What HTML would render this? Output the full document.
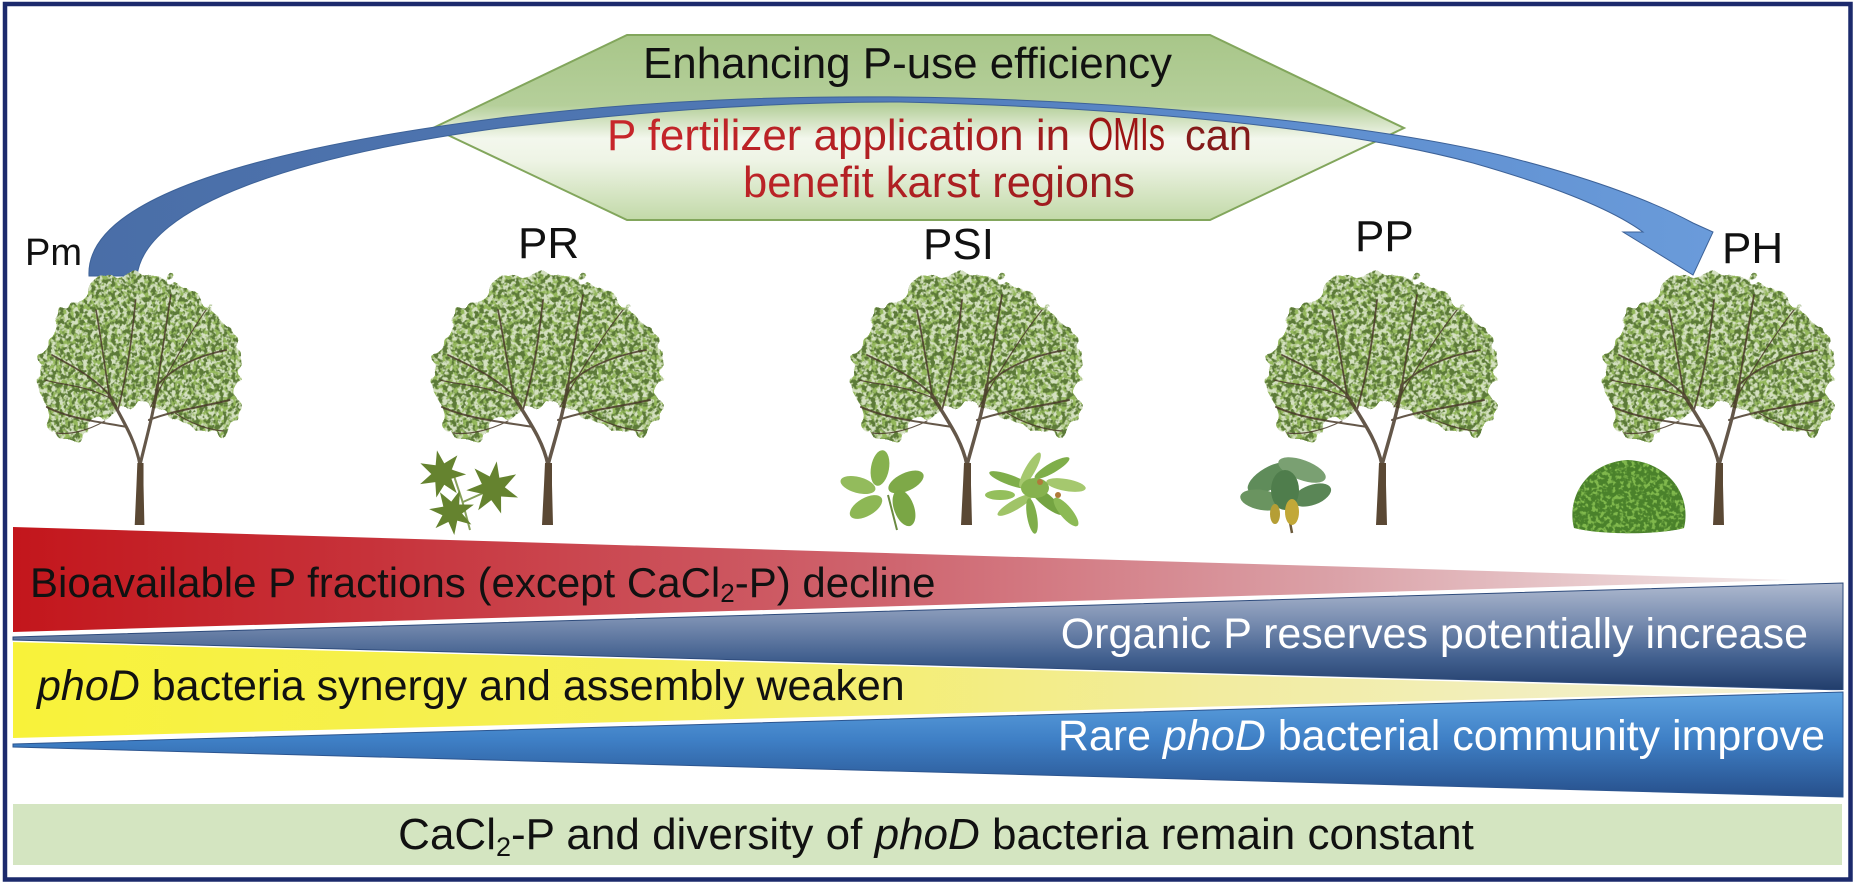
<!DOCTYPE html>
<html><head><meta charset="utf-8"><style>
html,body{margin:0;padding:0;background:#fff;overflow:hidden}
svg{display:block}
text{font-family:"Liberation Sans",Arial,sans-serif}
</style></head><body>
<svg width="1857" height="886" viewBox="0 0 1857 886" xmlns="http://www.w3.org/2000/svg">
<defs>
  <linearGradient id="hexG" x1="0" y1="35" x2="0" y2="220" gradientUnits="userSpaceOnUse">
    <stop offset="0" stop-color="#a8c689"/>
    <stop offset="0.38" stop-color="#b5cf9a"/>
    <stop offset="0.56" stop-color="#f3f7ed"/>
    <stop offset="0.68" stop-color="#eef4e5"/>
    <stop offset="1" stop-color="#c2d9a8"/>
  </linearGradient>
  <linearGradient id="arrG" x1="89" y1="0" x2="1713" y2="0" gradientUnits="userSpaceOnUse">
    <stop offset="0" stop-color="#4a6ea7"/>
    <stop offset="0.45" stop-color="#5079b6"/>
    <stop offset="0.75" stop-color="#5e8ecf"/>
    <stop offset="1" stop-color="#6a9bda"/>
  </linearGradient>
  <linearGradient id="redTxt" x1="600" y1="0" x2="1260" y2="0" gradientUnits="userSpaceOnUse">
    <stop offset="0" stop-color="#c8262b"/>
    <stop offset="0.6" stop-color="#a81d20"/>
    <stop offset="1" stop-color="#7e1a1a"/>
  </linearGradient>
  <linearGradient id="redG" x1="13" y1="0" x2="1790" y2="0" gradientUnits="userSpaceOnUse">
    <stop offset="0" stop-color="#c3161c"/>
    <stop offset="0.2" stop-color="#c7323a"/>
    <stop offset="0.5" stop-color="#cf6670"/>
    <stop offset="0.75" stop-color="#dba3a9"/>
    <stop offset="1" stop-color="#f3eaea"/>
  </linearGradient>
  <linearGradient id="yelG" x1="13" y1="0" x2="1843" y2="0" gradientUnits="userSpaceOnUse">
    <stop offset="0" stop-color="#f8f23a"/>
    <stop offset="0.35" stop-color="#f5ef58"/>
    <stop offset="0.65" stop-color="#f2ec9e"/>
    <stop offset="1" stop-color="#f3f1dc"/>
  </linearGradient>
  <linearGradient id="dbG" x1="0" y1="583" x2="0" y2="690" gradientUnits="userSpaceOnUse">
    <stop offset="0" stop-color="#aeb9cf"/>
    <stop offset="0.35" stop-color="#7a8eb1"/>
    <stop offset="0.7" stop-color="#42608f"/>
    <stop offset="1" stop-color="#213d6b"/>
  </linearGradient>
  <linearGradient id="blG" x1="0" y1="692" x2="0" y2="797" gradientUnits="userSpaceOnUse">
    <stop offset="0" stop-color="#5fa3e0"/>
    <stop offset="0.45" stop-color="#3f80c6"/>
    <stop offset="1" stop-color="#27508c"/>
  </linearGradient>

  <filter id="cBase" x="-20%" y="-20%" width="140%" height="140%" color-interpolation-filters="sRGB">
    <feTurbulence type="fractalNoise" baseFrequency="0.05" numOctaves="2" seed="4" result="t"/>
    <feDisplacementMap in="SourceGraphic" in2="t" scale="26" xChannelSelector="R" yChannelSelector="G"/>
  </filter>
  <filter id="cDark" x="-20%" y="-20%" width="140%" height="140%" color-interpolation-filters="sRGB">
    <feTurbulence type="fractalNoise" baseFrequency="0.05" numOctaves="2" seed="4" result="t"/>
    <feDisplacementMap in="SourceGraphic" in2="t" scale="26" xChannelSelector="R" yChannelSelector="G" result="shape"/>
    <feTurbulence type="fractalNoise" baseFrequency="0.22" numOctaves="2" seed="9" result="n"/>
    <feColorMatrix in="n" type="matrix" values="0 0 0 0 0.36  0 0 0 0 0.48  0 0 0 0 0.22  6.5 0 0 0 -3.0" result="sp"/>
    <feComposite in="sp" in2="shape" operator="in"/>
  </filter>
  <filter id="cLight" x="-20%" y="-20%" width="140%" height="140%" color-interpolation-filters="sRGB">
    <feTurbulence type="fractalNoise" baseFrequency="0.05" numOctaves="2" seed="4" result="t"/>
    <feDisplacementMap in="SourceGraphic" in2="t" scale="26" xChannelSelector="R" yChannelSelector="G" result="shape"/>
    <feTurbulence type="fractalNoise" baseFrequency="0.2" numOctaves="2" seed="21" result="n"/>
    <feColorMatrix in="n" type="matrix" values="0 0 0 0 0.58  0 0 0 0 0.72  0 0 0 0 0.36  0 6 0 0 -2.6" result="sp"/>
    <feComposite in="sp" in2="shape" operator="in"/>
  </filter>
  <filter id="bush" x="-10%" y="-10%" width="120%" height="120%" color-interpolation-filters="sRGB">
    <feTurbulence type="fractalNoise" baseFrequency="0.25" numOctaves="2" seed="3" result="n"/>
    <feColorMatrix in="n" type="matrix" values="0 0 0 0 0.5  0 0 0 0 0.72  0 0 0 0 0.3  6 0 0 0 -2.9" result="sp"/>
    <feComposite in="sp" in2="SourceAlpha" operator="in" result="s2"/>
    <feMerge><feMergeNode in="SourceGraphic"/><feMergeNode in="s2"/></feMerge>
  </filter>

  <path id="canopyShape" d="M -112,-118 C -122,-168 -100,-212 -58,-236 C -28,-252 28,-252 58,-236 C 100,-212 122,-168 112,-118 C 106,-94 92,-86 76,-90 C 50,-102 25,-122 0,-124 C -25,-122 -50,-102 -76,-90 C -92,-86 -106,-94 -112,-118 Z"/>

  <g id="tree">
    <use href="#canopyShape" fill="#d2dfbd" opacity="0.95" filter="url(#cBase)"/>
    <use href="#canopyShape" fill="#000" filter="url(#cLight)"/>
    <use href="#canopyShape" fill="#000" filter="url(#cDark)"/>
    <g fill="none" stroke="#4a3a2a" stroke-linecap="round" opacity="0.85">
      <path d="M 0,-60 C -5,-85 -20,-105 -35,-130" stroke-width="3.5"/>
      <path d="M 0,-60 C 8,-90 15,-110 20,-140" stroke-width="3.5"/>
      <path d="M -35,-130 C -55,-150 -80,-160 -100,-170" stroke-width="1.8"/>
      <path d="M -35,-130 C -40,-160 -45,-190 -50,-215" stroke-width="1.8"/>
      <path d="M -25,-115 C -15,-150 -10,-180 -5,-225" stroke-width="1.8"/>
      <path d="M 20,-140 C 40,-160 70,-170 98,-175" stroke-width="1.8"/>
      <path d="M 20,-140 C 25,-175 30,-200 35,-230" stroke-width="1.8"/>
      <path d="M 10,-105 C 40,-115 70,-118 102,-125" stroke-width="2"/>
      <path d="M -15,-98 C -45,-103 -80,-106 -106,-118" stroke-width="2"/>
      <path d="M 12,-118 C 30,-150 55,-190 75,-215" stroke-width="1.2"/>
      <path d="M -30,-125 C -60,-140 -90,-140 -108,-145" stroke-width="1.2"/>
      <path d="M 40,-112 C 60,-100 80,-95 95,-94" stroke-width="1.2"/>
      <path d="M -40,-104 C -60,-94 -80,-90 -95,-92" stroke-width="1.2"/>
    </g>
    <path d="M -6,0 L -4,-40 L -3,-62 L 4,-62 L 4,-40 L 5,0 Z" fill="#5a4834"/>
  </g>

  <path id="palm" d="M0,-22 L4,-9 L17.2,-13.7 L9.5,-2 L21.4,4.9 L7.5,6 L9.5,19.8 L0,10 L-9.5,19.8 L-7.5,6 L-21.4,4.9 L-9.5,-2 L-17.2,-13.7 L-4,-9 Z"/>
</defs>

<rect width="1857" height="886" fill="#fff"/>

<!-- hexagon -->
<polygon points="433,128 627,35 1210,35 1404,128 1210,220 627,220" fill="url(#hexG)" stroke="#82a65c" stroke-width="2"/>
<text x="643" y="78" font-size="44" fill="#111" textLength="529" lengthAdjust="spacingAndGlyphs">Enhancing P-use efficiency</text>

<!-- arrow -->
<path d="M 89,276 C 85,200 250,150 500,118 C 650,100 780,96 900,97 C 1100,99 1350,120 1500,155 C 1600,180 1660,205 1693,223 L 1713,232 L 1693,275 L 1623,232 L 1643,232 C 1610,208 1550,185 1473,163 C 1350,130 1150,108 900,102 C 750,102 620,114 500,128 C 300,155 145,205 137,276 Z" fill="url(#arrG)" stroke="#3d6298" stroke-width="1"/>

<text x="607" y="150" font-size="44" fill="url(#redTxt)" textLength="463" lengthAdjust="spacingAndGlyphs">P fertilizer application in</text>
<text x="1088" y="150" font-size="46" fill="#9c1414" textLength="77" lengthAdjust="spacingAndGlyphs">OMIs</text>
<text x="1185" y="150" font-size="44" fill="#841a1a" textLength="67" lengthAdjust="spacingAndGlyphs">can</text>
<text x="743" y="197" font-size="44" fill="url(#redTxt)" textLength="392" lengthAdjust="spacingAndGlyphs">benefit karst regions</text>

<!-- labels -->
<g fill="#111">
  <text x="25" y="265" font-size="38">Pm</text>
  <text x="518" y="258" font-size="44">PR</text>
  <text x="923" y="259" font-size="44">PSI</text>
  <text x="1355" y="251" font-size="44">PP</text>
  <text x="1722" y="263" font-size="44">PH</text>
</g>

<!-- trees -->
<use href="#tree" transform="translate(140,525) scale(0.88,1)"/>
<use href="#tree" x="548" y="525"/>
<use href="#tree" x="967" y="525"/>
<use href="#tree" x="1382" y="525"/>
<use href="#tree" x="1719" y="525"/>

<!-- PR plant -->
<g fill="#65832f">
  <path d="M470,530 L462,500 L452,470 M463,502 L490,490" stroke="#86a05a" stroke-width="2" fill="none"/>
  <use href="#palm" transform="translate(442,474) scale(1.1) rotate(-12)"/>
  <use href="#palm" transform="translate(493,488) scale(1.22) rotate(8)"/>
  <use href="#palm" transform="translate(452,512) scale(1.05) rotate(20)"/>
</g>

<!-- PSI left plant -->
<g>
  <path d="M897,530 L888,495" stroke="#6a8a40" stroke-width="2"/>
  <ellipse cx="880" cy="468" rx="9" ry="18" transform="rotate(10 880 468)" fill="#86b14e"/>
  <ellipse cx="858" cy="485" rx="18" ry="8" transform="rotate(15 858 485)" fill="#93bb5c"/>
  <ellipse cx="906" cy="482" rx="19" ry="9" transform="rotate(-25 906 482)" fill="#7ea948"/>
  <ellipse cx="866" cy="507" rx="18" ry="9" transform="rotate(-30 866 507)" fill="#8db755"/>
  <ellipse cx="904" cy="508" rx="10" ry="19" transform="rotate(-20 904 508)" fill="#7aa645"/>
</g>

<!-- PSI right plant -->
<g>
  <ellipse cx="1010" cy="480" rx="22" ry="5" transform="rotate(20 1010 480)" fill="#7fae4a"/>
  <ellipse cx="1030" cy="470" rx="20" ry="5" transform="rotate(-60 1030 470)" fill="#a5c86e"/>
  <ellipse cx="1052" cy="468" rx="20" ry="5" transform="rotate(-30 1052 468)" fill="#7fae4a"/>
  <ellipse cx="1066" cy="485" rx="20" ry="6" transform="rotate(10 1066 485)" fill="#a5c86e"/>
  <ellipse cx="1046" cy="500" rx="22" ry="6" transform="rotate(40 1046 500)" fill="#74a442"/>
  <ellipse cx="1015" cy="505" rx="20" ry="5" transform="rotate(-30 1015 505)" fill="#a0c468"/>
  <ellipse cx="1032" cy="516" rx="18" ry="5" transform="rotate(80 1032 516)" fill="#7fae4a"/>
  <ellipse cx="1066" cy="512" rx="18" ry="6" transform="rotate(50 1066 512)" fill="#8cba55"/>
  <ellipse cx="1000" cy="495" rx="15" ry="5" fill="#94bf5c"/>
  <ellipse cx="1035" cy="488" rx="14" ry="10" fill="#86b24e"/>
  <circle cx="1040" cy="482" r="3" fill="#b07a3a"/>
  <circle cx="1058" cy="495" r="3" fill="#b07a3a"/>
</g>

<!-- PP plant -->
<g>
  <path d="M1292,533 L1285,495" stroke="#6b5a3a" stroke-width="2.5"/>
  <ellipse cx="1270" cy="478" rx="25" ry="11" transform="rotate(-30 1270 478)" fill="#5f8c5a"/>
  <ellipse cx="1302" cy="470" rx="25" ry="10" transform="rotate(20 1302 470)" fill="#7aa072"/>
  <ellipse cx="1262" cy="500" rx="22" ry="10" transform="rotate(10 1262 500)" fill="#6a9460"/>
  <ellipse cx="1312" cy="495" rx="20" ry="10" transform="rotate(-20 1312 495)" fill="#5a8656"/>
  <ellipse cx="1285" cy="490" rx="14" ry="20" fill="#4f7d4c"/>
  <ellipse cx="1292" cy="512" rx="7" ry="13" fill="#c2a838"/>
  <ellipse cx="1275" cy="514" rx="5" ry="10" fill="#b59e35"/>
</g>

<!-- PH bush -->
<path d="M1574,528 C1566,496 1588,462 1628,460 C1668,462 1692,495 1684,528 C1660,535 1600,535 1574,528 Z" fill="#4a812b" filter="url(#bush)"/>

<!-- bands -->
<polygon points="13,527 1790,580 13,632" fill="url(#redG)"/>
<polygon points="13,639 1843,690 13,738" fill="url(#yelG)"/>
<polygon points="13,637 1843,583 1843,690 13,640" fill="none" stroke="#fff" stroke-width="4"/>
<polygon points="13,637 1843,583 1843,690 13,640" fill="url(#dbG)" stroke="#2e4b7c" stroke-width="1"/>
<polygon points="13,744 1843,692 1843,797 13,747" fill="none" stroke="#fff" stroke-width="4"/>
<polygon points="13,744 1843,692 1843,797 13,747" fill="url(#blG)" stroke="#2c5590" stroke-width="1"/>

<rect x="13" y="804" width="1829" height="61" fill="#d4e5c1"/>

<text x="30" y="597" font-size="42" fill="#111">Bioavailable P fractions (except CaCl<tspan font-size="26" dy="5">2</tspan><tspan dy="-5">-P) decline</tspan></text>
<text x="1808" y="648" font-size="43" fill="#fff" text-anchor="end">Organic P reserves potentially increase</text>
<text x="37" y="700" font-size="43" fill="#111"><tspan font-style="italic">phoD</tspan> bacteria synergy and assembly weaken</text>
<text x="1825" y="750" font-size="43" fill="#fff" text-anchor="end">Rare <tspan font-style="italic">phoD</tspan> bacterial community improve</text>
<text x="936" y="849" font-size="44" fill="#111" text-anchor="middle">CaCl<tspan font-size="27" dy="7">2</tspan><tspan dy="-7">-P and diversity of </tspan><tspan font-style="italic">phoD</tspan> bacteria remain constant</text>

<!-- frame -->
<rect x="5" y="4" width="1845.5" height="875.5" fill="none" stroke="#1c2a6c" stroke-width="4.5"/>
</svg>
</body></html>
